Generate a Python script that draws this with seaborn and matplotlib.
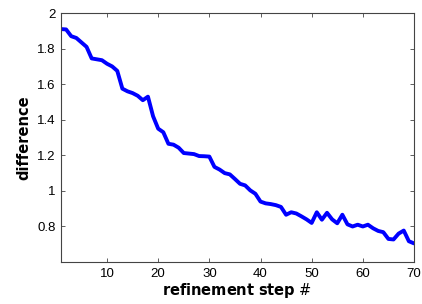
import numpy as np
import pandas as pd
import matplotlib
matplotlib.use("Agg")
import matplotlib.pyplot as plt
import seaborn as sns

# values
steps = list(range(1, 71))
difference = [
    1.910, 1.908, 1.870, 1.860, 1.835, 1.810, 1.745, 1.740, 1.735, 1.715,
    1.700, 1.675, 1.575, 1.560, 1.550, 1.535, 1.510, 1.530, 1.420, 1.350,
    1.330, 1.265, 1.260, 1.243, 1.213, 1.210, 1.207, 1.196, 1.195, 1.193,
    1.135, 1.120, 1.100, 1.093, 1.067, 1.040, 1.031, 1.003, 0.984, 0.940,
    0.930, 0.926, 0.920, 0.910, 0.866, 0.880, 0.873, 0.857, 0.840, 0.820,
    0.880, 0.838, 0.877, 0.840, 0.818, 0.866, 0.812, 0.800, 0.810, 0.800,
    0.810, 0.790, 0.775, 0.768, 0.730, 0.727, 0.760, 0.777, 0.717, 0.705,
]
xticks = [10, 20, 30, 40, 50, 60, 70]
yticks = [0.8, 1.0, 1.2, 1.4, 1.6, 1.8, 2.0]
ytick_labels = ["0.8", "1", "1.2", "1.4", "1.6", "1.8", "2"]

df = pd.DataFrame({"step": steps, "difference": difference})

sns.set_style("ticks")
plt.rcParams["font.family"] = ["Liberation Sans", "DejaVu Sans"]
plt.rcParams["xtick.direction"] = "in"
plt.rcParams["ytick.direction"] = "in"
plt.rcParams["text.color"] = "black"
plt.rcParams["axes.labelcolor"] = "black"
plt.rcParams["xtick.labelcolor"] = "black"
plt.rcParams["ytick.labelcolor"] = "black"

fig = plt.figure(figsize=(4.22, 3.04), dpi=100)
ax = fig.add_axes([0.1445, 0.138, 0.8365, 0.819])

sns.lineplot(data=df, x="step", y="difference", color="#0000ff", linewidth=2.8, ax=ax)

ax.set_xlim(1, 70)
ax.set_ylim(0.6, 2.0)
ax.set_xticks(xticks)
ax.set_yticks(yticks)
ax.set_yticklabels(ytick_labels)
ax.tick_params(axis="both", labelsize=9.5, length=3, width=0.6, color="#444444",
               top=True, right=True, pad=4)
for s in ax.spines.values():
    s.set_linewidth(0.8)
    s.set_color("#444444")

ax.set_xlabel(r"$\bf{refinement\ step}$ $\#$", fontsize=10.5, family="DejaVu Sans", labelpad=1)
ax.set_ylabel("difference", fontsize=10.5, fontweight="bold", family="DejaVu Sans", labelpad=4)

fig.savefig("out.png", dpi=100)
